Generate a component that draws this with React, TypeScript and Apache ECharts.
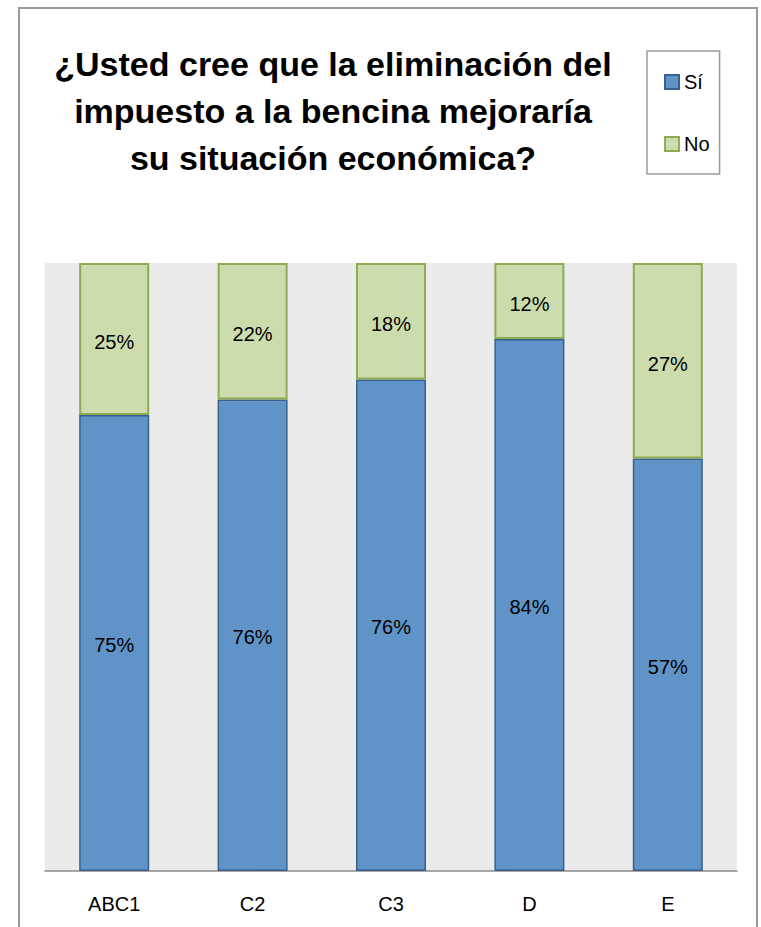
import React, { useEffect, useRef } from "react";
import * as echarts from "echarts";

const categories = ["ABC1", "C2", "C3", "D", "E"];
const siValues = [75, 76, 76, 84, 57];
const noValues = [25, 22, 18, 12, 27];
const seriesNames = ["Sí", "No"];
const titleLines = [
  "¿Usted cree que la eliminación del",
  "impuesto a la bencina mejoraría",
  "su situación económica?",
];

export default function App() {
  const ref = useRef<HTMLDivElement>(null);

  useEffect(() => {
    if (!ref.current) return;
    const chart = echarts.init(ref.current, undefined, { renderer: "svg" });

    // 100% stacked: each category's shares of its own total
    const totals = siValues.map((v, i) => v + noValues[i]);
    const siShare = siValues.map((v, i) => (v / totals[i]) * 100);
    const noShare = noValues.map((v, i) => (v / totals[i]) * 100);

    const font = "'Liberation Sans', Arial, sans-serif";

    chart.setOption({
      animation: false,
      backgroundColor: "#ffffff",
      textStyle: { fontFamily: font },
      grid: {
        left: 45,
        right: 24,
        top: 263,
        bottom: 56,
        show: true,
        backgroundColor: "#ebebeb",
        borderWidth: 0,
      },
      legend: {
        orient: "vertical",
        left: 647,
        top: 51,
        padding: [21, 10, 20, 17],
        itemWidth: 14,
        itemHeight: 14,
        itemGap: 42,
        borderColor: "#9a9a9a",
        borderWidth: 1.5,
        icon: "rect",
        textStyle: { fontSize: 20, color: "#000", fontFamily: font },
        data: seriesNames,
      },
      xAxis: {
        type: "category",
        data: categories,
        axisLine: { show: true, lineStyle: { color: "#8c8c8c", width: 1.5 } },
        axisTick: { show: false },
        axisLabel: { fontSize: 20, color: "#000", margin: 23, fontFamily: font },
      },
      yAxis: {
        type: "value",
        min: 0,
        max: 100,
        show: false,
        splitLine: { show: false },
      },
      series: [
        {
          name: seriesNames[0],
          type: "bar",
          stack: "total",
          barWidth: 70,
          data: siShare,
          itemStyle: { color: "#6094c9", borderColor: "#3a5f8b", borderWidth: 1.5 },
          label: {
            show: true,
            position: "inside",
            offset: [0, 2],
            fontSize: 20,
            color: "#000",
            fontFamily: font,
            formatter: (p: any) => siValues[p.dataIndex] + "%",
          },
        },
        {
          name: seriesNames[1],
          type: "bar",
          stack: "total",
          barWidth: 70,
          data: noShare,
          itemStyle: { color: "#cddcac", borderColor: "#8eaa52", borderWidth: 2 },
          label: {
            show: true,
            position: "inside",
            offset: [0, 3],
            fontSize: 20,
            color: "#000",
            fontFamily: font,
            formatter: (p: any) => noValues[p.dataIndex] + "%",
          },
        },
      ],
      graphic: [
        {
          type: "rect",
          silent: true,
          shape: { x: 19, y: 8, width: 738, height: 960 },
          style: { fill: "none", stroke: "#9a9a9a", lineWidth: 2 },
          z: 100,
        },
        {
          type: "text",
          x: 333,
          y: 40,
          style: {
            text: titleLines.join("\n"),
            font: `bold 34px ${font}`,
            fill: "#000",
            textAlign: "center",
            textVerticalAlign: "top",
            lineHeight: 47,
          },
          z: 100,
        },
      ],
    });

    return () => chart.dispose();
  }, []);

  return (
    <div
      ref={ref}
      style={{ position: "fixed", left: 0, top: 0, width: 761, height: 927 }}
    />
  );
}
